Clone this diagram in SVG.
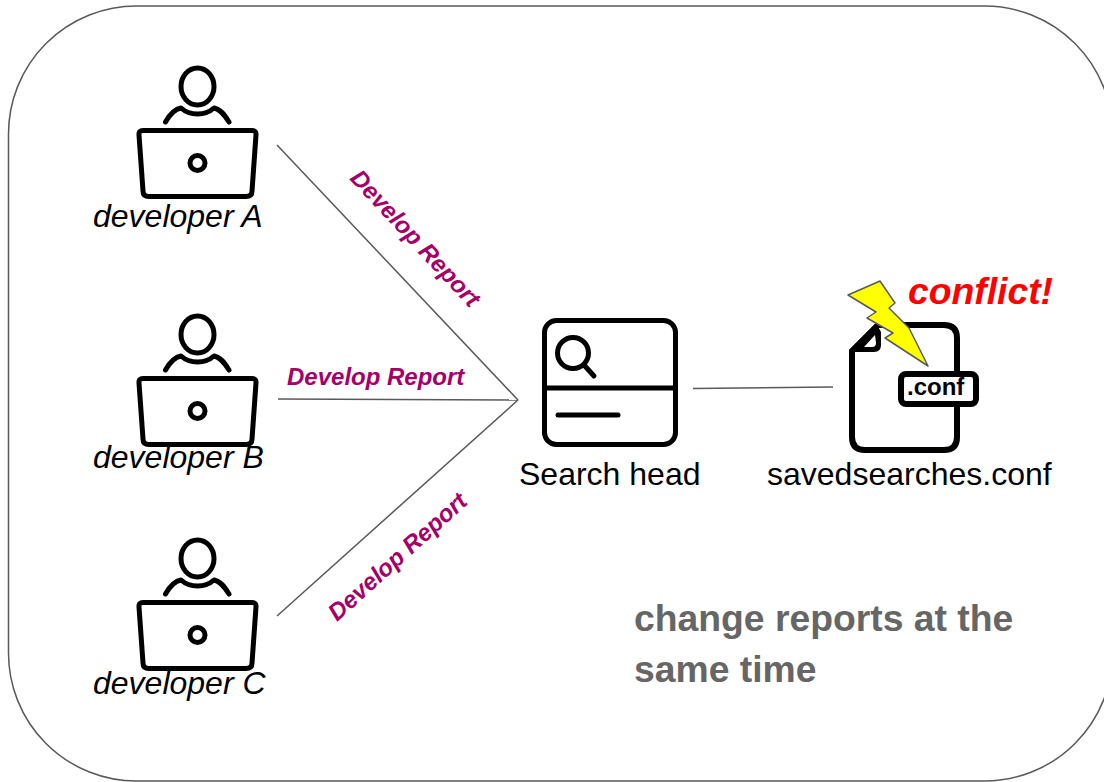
<svg xmlns="http://www.w3.org/2000/svg" width="1104" height="782" viewBox="0 0 1104 782">
<style>
.ic{fill:none;stroke:#000;stroke-width:5;stroke-linecap:round;stroke-linejoin:round}
.fi{fill:none;stroke:#000;stroke-width:6;stroke-linecap:round;stroke-linejoin:round}
.conn{fill:none;stroke:#595959;stroke-width:1.5}
.lbl{font-family:"Liberation Sans",Arial,sans-serif;font-size:32px;fill:#000}
.dev{font-style:italic}
.rep{font-family:"Liberation Sans",Arial,sans-serif;font-size:24px;font-weight:bold;font-style:italic;fill:#a50069}
.note{font-family:"Liberation Sans",Arial,sans-serif;font-size:37.300px;font-weight:bold;fill:#666}
</style>
<defs>
<g id="dev-icon">
<ellipse class="ic" cx="197.500" cy="86.500" rx="16.500" ry="18.500"/>
<path class="ic" d="M165.500,122 C170,114 175,109 181,108 C190,116 205,116 214,108 C220,109 224,114 229,122"/>
<path class="ic" d="M143,130.500 H252 Q256.500,130.500 256,135 L252,191 Q252,196.500 246,196.500 H149 Q143,196.500 143,191 L139,135 Q138.500,130.500 143,130.500 Z"/>
<circle class="ic" cx="197.500" cy="163" r="7.500"/>
</g>
</defs>
<rect id="frame" x="8.500" y="6" width="1104" height="775" rx="128" ry="128" fill="#fff" stroke="#595959" stroke-width="1.500"/>
<g id="connectors">
<line class="conn" x1="277" y1="145" x2="518" y2="400"/>
<line class="conn" x1="278" y1="399" x2="518" y2="400"/>
<line class="conn" x1="277" y1="616" x2="518" y2="400"/>
<line class="conn" x1="693" y1="388.500" x2="833" y2="387"/>
</g>
<g id="developer-a">
<use href="#dev-icon"/>
<text class="lbl dev" x="93" y="227">developer A</text>
</g>
<g id="developer-b">
<use href="#dev-icon" y="248"/>
<text class="lbl dev" x="93" y="468">developer B</text>
</g>
<g id="developer-c">
<use href="#dev-icon" y="472"/>
<text class="lbl dev" x="93" y="694">developer C</text>
</g>
<g id="label-a"><text class="rep" transform="translate(349,179) rotate(47)">Develop Report</text></g>
<g id="label-b"><text class="rep" x="287" y="385">Develop Report</text></g>
<g id="label-c"><text class="rep" transform="translate(337,622) rotate(-42)">Develop Report</text></g>
<g id="search-head">
<rect class="ic" x="544.500" y="320.500" width="131" height="124" rx="12"/>
<line class="ic" x1="545" y1="388" x2="675" y2="388"/>
<circle class="ic" cx="573" cy="353" r="15.500"/>
<line class="ic" x1="584" y1="365" x2="594" y2="376"/>
<line class="ic" x1="558" y1="415" x2="618" y2="415"/>
<text class="lbl" x="519" y="485">Search head</text>
</g>
<g id="conf-file">
<path class="fi" d="M852,351 L878,325 H944 Q957,325 957,338 V437 Q957,450 944,450 H865 Q852,450 852,437 Z"/>
<path d="M849,350 L876,323 L881,332 V345 Q881,352 874,352 H852 Z" fill="#000"/>
<path d="M864,347 L875,335 L876,343 Q876,347 872,347 Z" fill="#fff"/>
<rect class="fi" x="901" y="374" width="75" height="30" rx="5" style="fill:#fff"/>
<text x="907" y="395" font-family="'Liberation Sans',Arial,sans-serif" font-size="24" font-weight="bold" fill="#000">.conf</text>
<polygon points="848,295 880,281 895,303 889,308 909,328 928,366 885,338 893,333 867,318 876,312" fill="#ff0" stroke="#595959" stroke-width="1.500" stroke-linejoin="round"/>
<text class="lbl" x="767" y="485">savedsearches.conf</text>
</g>
<g id="conflict"><text x="908" y="304" font-family="'Liberation Sans',Arial,sans-serif" font-size="37.300" font-weight="bold" font-style="italic" fill="#f00">conflict!</text></g>
<g id="note">
<text class="note" x="634" y="631">change reports at the</text>
<text class="note" x="634" y="682">same time</text>
</g>
</svg>
